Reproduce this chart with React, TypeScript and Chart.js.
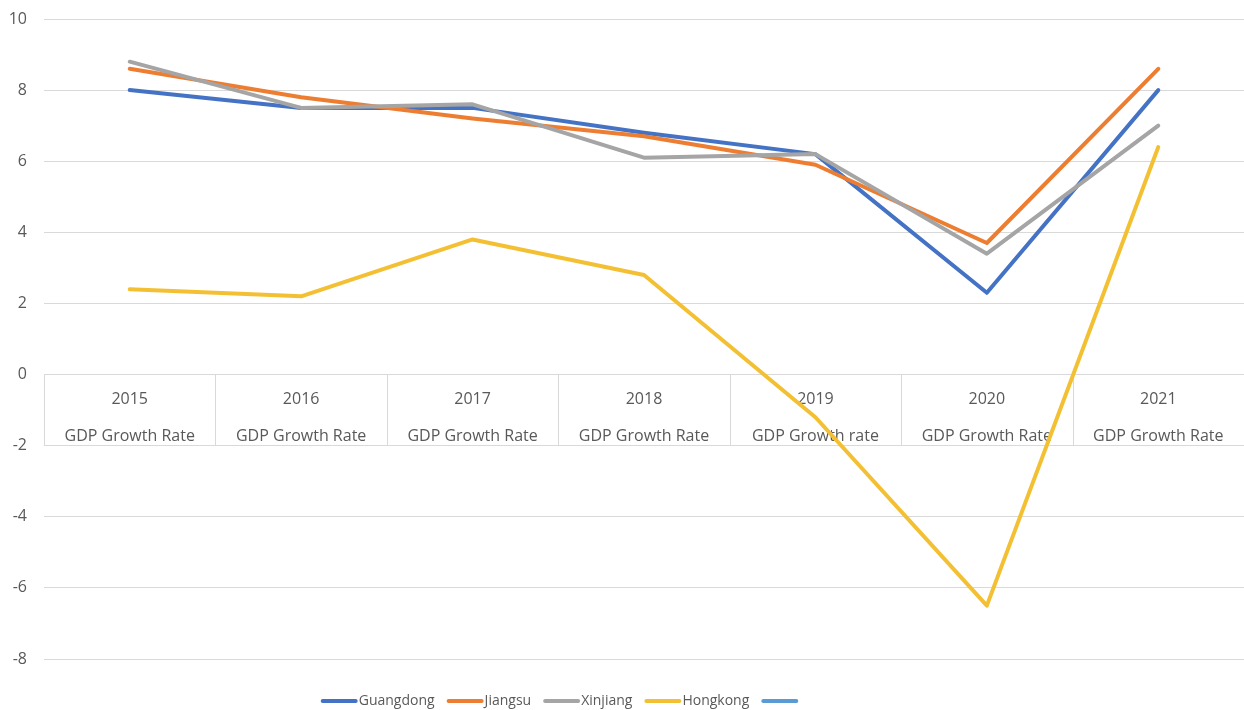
import { useEffect, useRef } from "react";
import { Chart, registerables } from "chart.js";

Chart.register(...registerables);

const years = ["2015", "2016", "2017", "2018", "2019", "2020", "2021"];
const subLabels = [
  "GDP Growth Rate",
  "GDP Growth Rate",
  "GDP Growth Rate",
  "GDP Growth Rate",
  "GDP Growth rate",
  "GDP Growth Rate",
  "GDP Growth Rate",
];
const guangdong = [8.0, 7.5, 7.5, 6.8, 6.2, 2.3, 8.0];
const jiangsu = [8.6, 7.8, 7.2, 6.7, 5.9, 3.7, 8.6];
const xinjiang = [8.8, 7.5, 7.6, 6.1, 6.2, 3.4, 7.0];
const hongkong = [2.4, 2.2, 3.8, 2.8, -1.2, -6.5, 6.4];
const seriesNames = ["Guangdong", "Jiangsu", "Xinjiang", "Hongkong", ""];
const seriesColors = ["#4472C4", "#ED7D31", "#A5A5A5", "#F4C033", "#5B9BD5"];
const yMin = -8;
const yMax = 10;
const yStep = 2;

const FONT = "'Open Sans', sans-serif";
const TEXT = "#595959";
const GRID = "#D9D9D9";

const separatorPlugin = {
  id: "separators",
  beforeDatasetsDraw(chart: any) {
    const x = chart.scales.x;
    const y = chart.scales.y;
    const ctx = chart.ctx;
    const top = y.getPixelForValue(0);
    const bottom = y.getPixelForValue(-2);
    ctx.save();
    ctx.strokeStyle = GRID;
    ctx.lineWidth = 1;
    for (let i = 0; i <= years.length; i++) {
      const px = Math.round(x.getPixelForValue(i - 0.5)) + 0.5;
      ctx.beginPath();
      ctx.moveTo(px, top);
      ctx.lineTo(px, bottom);
      ctx.stroke();
    }
    ctx.restore();
  },
};

const legendPlugin = {
  id: "customLegend",
  afterDraw(chart: any) {
    const ctx = chart.ctx;
    ctx.save();
    ctx.font = `14px ${FONT}`;
    const sample = 37;
    const gap = 12;
    const widths = seriesNames.map((n) => (n ? ctx.measureText(n).width : 0));
    let total = 0;
    widths.forEach((w, i) => {
      total += sample + w + 1 + (i < widths.length - 1 ? gap : 0);
    });
    let x = chart.width / 2 - 62 - total / 2;
    const yy = 701;
    seriesNames.forEach((name, i) => {
      ctx.strokeStyle = seriesColors[i];
      ctx.lineWidth = 4;
      ctx.lineCap = "round";
      ctx.beginPath();
      ctx.moveTo(x + 2, yy);
      ctx.lineTo(x + sample - 2, yy);
      ctx.stroke();
      x += sample + 1;
      if (name) {
        ctx.fillStyle = TEXT;
        ctx.textBaseline = "middle";
        ctx.textAlign = "left";
        ctx.fillText(name, x, yy);
      }
      x += widths[i] + gap;
    });
    ctx.restore();
  },
};

export default function App() {
  const ref = useRef<HTMLCanvasElement | null>(null);
  useEffect(() => {
    if (!ref.current) return;
    const data = [guangdong, jiangsu, xinjiang, hongkong];
    const chart = new Chart(ref.current, {
      type: "line",
      data: {
        labels: years.map((y, i) => [y, subLabels[i]]),
        datasets: data.map((d, i) => ({
          label: seriesNames[i],
          data: d,
          borderColor: seriesColors[i],
          backgroundColor: seriesColors[i],
          borderWidth: 4,
          borderCapStyle: "round",
          borderJoinStyle: "round",
          pointRadius: 0,
          tension: 0,
          order: 4 - i,
        })),
      },
      options: {
        animation: false,
        responsive: false,
        devicePixelRatio: 1,
        layout: { padding: { top: 19, bottom: 51, left: 9, right: 0 } },
        plugins: { legend: { display: false }, tooltip: { enabled: false } },
        scales: {
          x: {
            position: { y: 0 },
            offset: true,
            grid: { display: true, drawOnChartArea: false, drawTicks: false },
            border: { display: true, color: GRID, width: 1 },
            ticks: {
              color: TEXT,
              font: { family: FONT, size: 16, lineHeight: 37 / 16 },
              padding: 6.5,
              maxRotation: 0,
              autoSkip: false,
            },
            afterFit: (s: any) => {
              s.paddingLeft = 0;
              s.paddingRight = 0;
            },
          },
          y: {
            min: yMin,
            max: yMax,
            grid: { color: GRID, drawTicks: false },
            border: { display: false },
            ticks: {
              stepSize: yStep,
              color: TEXT,
              padding: 17,
              font: { family: FONT, size: 16 },
            },
            afterFit: (s: any) => {
              s.width = 35;
              s.paddingTop = 0;
              s.paddingBottom = 0;
            },
          },
        },
      },
      plugins: [separatorPlugin, legendPlugin],
    });
    return () => chart.destroy();
  }, []);
  return (
    <div style={{ position: "absolute", left: 0, top: 0, width: 1244, height: 710, background: "#fff" }}>
      <canvas ref={ref} width={1244} height={710} />
    </div>
  );
}
